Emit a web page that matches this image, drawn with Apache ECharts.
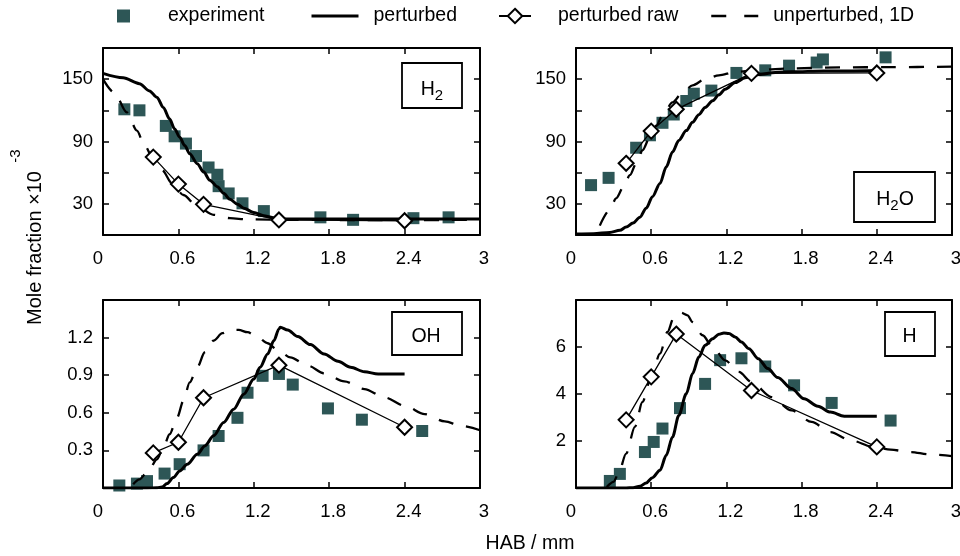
<!DOCTYPE html>
<html><head><meta charset="utf-8">
<script src="https://cdn.jsdelivr.net/npm/echarts@6/dist/echarts.min.js"></script>
<style>html,body{margin:0;padding:0;background:#fff}#c{width:960px;height:556px}</style>
</head><body><div id="c"></div>
<script>
const FONT = '"Liberation Sans", Arial, Helvetica, sans-serif';
const xTickLabels = ['0', '0.6', '1.2', '1.8', '2.4', '3'];
const h2YLabels = [30, 90, 150];
const h2oYLabels = [30, 90, 150];
const ohYLabels = [0.3, 0.6, 0.9, 1.2];
const hYLabels = [2, 4, 6];
const seriesNames = ['experiment', 'perturbed', 'perturbed raw', 'unperturbed, 1D'];
const rawX = [0.4, 0.6, 0.8, 1.4, 2.4];

// H2
const h2Exp = [[0.17,121],[0.29,120],[0.50,105],[0.57,95],[0.66,88],[0.74,76],[0.84,65],[0.91,58],[0.92,47],[1.00,40],[1.11,30.5],[1.28,23],[1.73,17],[1.99,14.6],[2.47,16.2],[2.75,17]];
const h2Pert = [[0,155.6],[0.16,151.4],[0.29,145.7],[0.37,138.7],[0.43,132.4],[0.48,122.8],[0.53,111.7],[0.57,102.1],[0.61,94.2],[0.65,86.2],[0.69,78.3],[0.75,68.7],[0.80,60.8],[0.85,52.8],[0.91,46.5],[0.96,40.1],[1.01,34.4],[1.07,29.6],[1.12,25.8],[1.20,21.6],[1.28,18.5],[1.39,15.6],[1.49,15.3],[2.0,15.3],[3.0,15.3]];
const h2RawY = [75, 49, 29.5, 14.5, 13.7];
const h2Unpert = [[0,150],[0.09,137],[0.19,118],[0.27,100.5],[0.33,86.2],[0.40,73.5],[0.47,62.4],[0.55,49.6],[0.64,38.5],[0.75,27.4],[0.88,19.4],[1.01,16.2],[1.15,15.0],[1.5,14.6],[2.0,14.4],[3.0,14.5]];

// H2O
const h2oExp = [[0.12,48],[0.26,55],[0.48,84],[0.59,96],[0.69,108],[0.78,116],[0.88,129],[0.94,136],[1.08,139],[1.28,156],[1.51,158.5],[1.70,163],[1.92,166],[1.97,169],[2.47,171]];
const h2oPert = [[0,1],[0.14,1.3],[0.27,2.5],[0.35,4.5],[0.40,7.6],[0.455,11.5],[0.51,17.2],[0.56,25.8],[0.61,36.9],[0.67,49.6],[0.72,65.5],[0.77,79.9],[0.82,91],[0.88,100.5],[0.93,108.5],[0.98,115.8],[1.03,122.8],[1.09,129.2],[1.14,134.9],[1.19,140.3],[1.27,146.7],[1.35,151.4],[1.46,154.6],[1.59,156.5],[1.72,157.2],[1.98,157.8],[2.4,158.4]];
const h2oRawY = [69, 100, 121, 155.6, 156];
const h2oUnpert = [[0.19,9],[0.27,24.2],[0.32,35.3],[0.38,46.5],[0.43,57.6],[0.48,68.7],[0.53,81.5],[0.59,94.2],[0.64,105.3],[0.69,114.9],[0.77,127.6],[0.85,137.1],[0.93,144.1],[1.03,149.9],[1.14,153.7],[1.27,156.9],[1.46,159.1],[1.72,160.4],[2.11,161.3],[2.51,161.6],[3.0,162]];

// OH
const ohExp = [[0.13,0.02],[0.27,0.035],[0.35,0.055],[0.49,0.115],[0.61,0.19],[0.80,0.30],[0.92,0.415],[1.07,0.56],[1.15,0.76],[1.27,0.895],[1.40,0.91],[1.51,0.825],[1.79,0.635],[2.06,0.545],[2.54,0.455]];
const ohPert = [[0,0],[0.35,0],[0.43,0.002],[0.47,0.008],[0.51,0.035],[0.56,0.083],[0.61,0.136],[0.67,0.189],[0.75,0.269],[0.81,0.336],[0.88,0.416],[0.96,0.523],[1.04,0.629],[1.12,0.749],[1.20,0.869],[1.25,0.963],[1.31,1.069],[1.36,1.176],[1.40,1.269],[1.41,1.283],[1.47,1.261],[1.55,1.208],[1.65,1.144],[1.76,1.069],[1.87,1.011],[1.97,0.963],[2.08,0.928],[2.19,0.909],[2.4,0.909]];
const ohRawY = [0.28, 0.365, 0.72, 0.98, 0.485];
const ohUnpert = [[0.24,0.029],[0.29,0.069],[0.36,0.136],[0.43,0.229],[0.48,0.323],[0.53,0.429],[0.59,0.563],[0.64,0.696],[0.69,0.843],[0.75,0.963],[0.81,1.083],[0.88,1.176],[0.95,1.235],[1.01,1.261],[1.08,1.261],[1.15,1.243],[1.23,1.203],[1.31,1.155],[1.39,1.101],[1.49,1.043],[1.63,0.976],[1.76,0.915],[1.92,0.851],[2.08,0.789],[2.24,0.723],[2.4,0.656],[2.56,0.589],[2.72,0.531],[2.85,0.496],[3.0,0.461]];

// H
const hExp = [[0.27,0.3],[0.35,0.6],[0.55,1.53],[0.62,1.96],[0.69,2.53],[0.83,3.4],[1.03,4.43],[1.15,5.44],[1.32,5.52],[1.51,5.17],[1.74,4.37],[2.04,3.62],[2.51,2.87]];
const hPert = [[0,0],[0.40,0],[0.455,0.014],[0.51,0.071],[0.56,0.213],[0.61,0.44],[0.67,0.752],[0.72,1.39],[0.77,2.17],[0.82,3.09],[0.88,4.01],[0.93,4.87],[0.98,5.57],[1.03,6.07],[1.09,6.35],[1.14,6.54],[1.18,6.6],[1.22,6.57],[1.27,6.43],[1.32,6.21],[1.38,5.93],[1.455,5.5],[1.53,5.08],[1.61,4.7],[1.72,4.23],[1.82,3.8],[1.93,3.48],[2.03,3.23],[2.14,3.05],[2.4,3.05]];
const hRawY = [2.9, 4.73, 6.55, 4.15, 1.75];
const hUnpert = [[0.245,0.04],[0.30,0.26],[0.34,0.64],[0.40,1.46],[0.47,2.6],[0.53,3.66],[0.60,4.72],[0.67,5.72],[0.73,6.64],[0.78,7.25],[0.84,7.46],[0.89,7.35],[0.93,7.06],[1.01,6.5],[1.09,6.0],[1.19,5.43],[1.30,4.94],[1.40,4.51],[1.56,3.87],[1.72,3.3],[1.88,2.81],[2.03,2.38],[2.19,2.03],[2.38,1.74],[2.51,1.63],[2.67,1.53],[2.82,1.43],[3.0,1.36]];

const panels = [
  {exp: h2Exp, pert: h2Pert, rawY: h2RawY, unpert: h2Unpert, yMax: 180, yInt: 30, yLabels: h2YLabels},
  {exp: h2oExp, pert: h2oPert, rawY: h2oRawY, unpert: h2oUnpert, yMax: 180, yInt: 30, yLabels: h2oYLabels},
  {exp: ohExp, pert: ohPert, rawY: ohRawY, unpert: ohUnpert, yMax: 1.5, yInt: 0.3, yLabels: ohYLabels},
  {exp: hExp, pert: hPert, rawY: hRawY, unpert: hUnpert, yMax: 8, yInt: 2, yLabels: hYLabels}
];

const gridBoxes = [
  {left: 103, top: 48, width: 377, height: 187},
  {left: 576, top: 48, width: 376, height: 187},
  {left: 103, top: 300, width: 377, height: 188},
  {left: 576, top: 300, width: 376, height: 188}
];

const EXP_COLOR = '#2d5656';
const axisLineStyle = {show: true, onZero: false, lineStyle: {color: '#000', width: 2}};
const tickStyle = {show: true, inside: true, length: 6, lineStyle: {color: '#000', width: 1.5}};

const grid = gridBoxes.map(g => Object.assign({outerBoundsMode: 'none', containLabel: false}, g));
const xAxis = [];
const yAxis = [];
panels.forEach((p, i) => {
  xAxis.push({
    type: 'value', gridIndex: i, position: 'bottom', min: 0, max: 3, interval: 0.6,
    axisLine: axisLineStyle, axisTick: tickStyle, splitLine: {show: false},
    axisLabel: {
      margin: 14,
      formatter: v => {
        const s = xTickLabels[Math.round(v / 0.6)];
        return Math.abs(v) < 1e-9 ? '{z|' + s + '}' : '{n|' + s + '}';
      },
      rich: {
        z: {fontSize: 18.5, fontFamily: FONT, color: '#000', padding: [0, 10, 0, 0]},
        n: {fontSize: 18.5, fontFamily: FONT, color: '#000', padding: [0, 0, 0, 8]}
      }
    }
  });
  yAxis.push({
    type: 'value', gridIndex: i, position: 'left', min: 0, max: p.yMax, interval: p.yInt,
    axisLine: axisLineStyle, axisTick: tickStyle, splitLine: {show: false},
    axisLabel: {
      margin: 10, fontSize: 18.5, fontFamily: FONT, color: '#000', padding: [12, 0, 0, 0],
      formatter: v => {
        for (const l of p.yLabels) if (Math.abs(v - l) < 1e-6) return String(l);
        return '';
      }
    }
  });
});
panels.forEach((p, i) => {
  xAxis.push({
    type: 'value', gridIndex: i, position: 'top', min: 0, max: 3, interval: 0.6,
    axisLine: axisLineStyle, axisTick: tickStyle, splitLine: {show: false}, axisLabel: {show: false}
  });
  yAxis.push({
    type: 'value', gridIndex: i, position: 'right', min: 0, max: p.yMax, interval: p.yInt,
    axisLine: axisLineStyle, axisTick: tickStyle, splitLine: {show: false}, axisLabel: {show: false}
  });
});

const DASH = [15, 13];
const series = [];
panels.forEach((p, i) => {
  series.push({
    name: seriesNames[0], type: 'scatter', xAxisIndex: i, yAxisIndex: i,
    symbol: 'rect', symbolSize: 12, itemStyle: {color: EXP_COLOR, opacity: 1}, data: p.exp, z: 2
  });
  series.push({
    name: seriesNames[3], type: 'line', xAxisIndex: i, yAxisIndex: i, showSymbol: false, symbol: 'none',
    smooth: 0.3, smoothMonotone: 'x',
    lineStyle: {color: '#000', width: 2.3, type: DASH}, itemStyle: {color: '#000'}, data: p.unpert, z: 3
  });
  series.push({
    name: seriesNames[1], type: 'line', xAxisIndex: i, yAxisIndex: i, showSymbol: false, symbol: 'none',
    smooth: 0.3, smoothMonotone: 'x',
    lineStyle: {color: '#000', width: 3}, itemStyle: {color: '#000'}, data: p.pert, z: 4
  });
  series.push({
    name: seriesNames[2], type: 'line', xAxisIndex: i, yAxisIndex: i,
    symbol: 'diamond', symbolSize: 15, showAllSymbol: true,
    lineStyle: {color: '#000', width: 1.3},
    itemStyle: {color: '#fff', borderColor: '#000', borderWidth: 2},
    data: rawX.map((x, k) => [x, p.rawY[k]]), z: 5
  });
});

const legendText = {fontSize: 19.5, fontFamily: FONT, color: '#000'};
const legend = [
  {data: [seriesNames[0]], left: 117, top: 6, padding: 0, selectedMode: false, itemWidth: 13, itemHeight: 13,
   textStyle: Object.assign({padding: [0, 0, 0, 33]}, legendText)},
  {data: [seriesNames[1]], left: 310, top: 6, padding: 0, selectedMode: false, itemWidth: 47, itemHeight: 14,
   lineStyle: {width: 3}, itemStyle: {opacity: 0},
   textStyle: Object.assign({padding: [0, 0, 0, 10]}, legendText)},
  {data: [seriesNames[2]], left: 498, top: 6, padding: 0, selectedMode: false, itemWidth: 32, itemHeight: 18,
   lineStyle: {width: 2}, textStyle: Object.assign({padding: [0, 0, 0, 22]}, legendText)},
  {data: [seriesNames[3]], left: 710, top: 6, padding: 0, selectedMode: false, itemWidth: 47, itemHeight: 14,
   lineStyle: {width: 2.5, type: [15, 18]}, itemStyle: {opacity: 0},
   textStyle: Object.assign({padding: [0, 0, 0, 10]}, legendText)}
];

const richLabel = {
  m: {fontSize: 19.5, fontFamily: FONT, fill: '#000', color: '#000'},
  s: {fontSize: 15, fontFamily: FONT, fill: '#000', color: '#000', padding: [11, 0, 0, 0]}
};
function box(x, y, w, h) {
  return {type: 'rect', shape: {x: x, y: y, width: w, height: h}, style: {fill: '#fff', stroke: '#000', lineWidth: 1.8}, z: 20};
}
function lbl(x, y, t) {
  return {type: 'text', x: x, y: y, style: {text: t, rich: richLabel, align: 'center', verticalAlign: 'middle', fontSize: 19.5, fontFamily: FONT, fill: '#000'}, z: 21};
}
const graphic = [
  box(402, 63, 60, 45), lbl(432, 90, '{m|H}{s|2}'),
  box(854, 172, 81, 50), lbl(895, 200, '{m|H}{s|2}{m|O}'),
  box(392, 312, 70, 43), lbl(426, 337, '{m|OH}'),
  box(885, 312, 50, 44), lbl(909.5, 337, '{m|H}'),
  {type: 'text', x: 35, y: 248, rotation: Math.PI / 2,
   style: {text: 'Mole fraction ×10', fontSize: 20, fontFamily: FONT, fill: '#000', align: 'center', verticalAlign: 'middle'}},
  {type: 'text', x: 16, y: 156, rotation: Math.PI / 2,
   style: {text: '-3', fontSize: 15, fontFamily: FONT, fill: '#000', align: 'center', verticalAlign: 'middle'}},
  {type: 'text', x: 530, y: 544,
   style: {text: 'HAB / mm', fontSize: 19.5, fontFamily: FONT, fill: '#000', align: 'center', verticalAlign: 'middle'}}
];

const chart = echarts.init(document.getElementById('c'), null, {renderer: 'canvas'});
chart.setOption({
  animation: false,
  backgroundColor: '#fff',
  textStyle: {fontFamily: FONT},
  grid: grid, xAxis: xAxis, yAxis: yAxis, series: series, legend: legend, graphic: graphic
});
</script>
</body></html>
